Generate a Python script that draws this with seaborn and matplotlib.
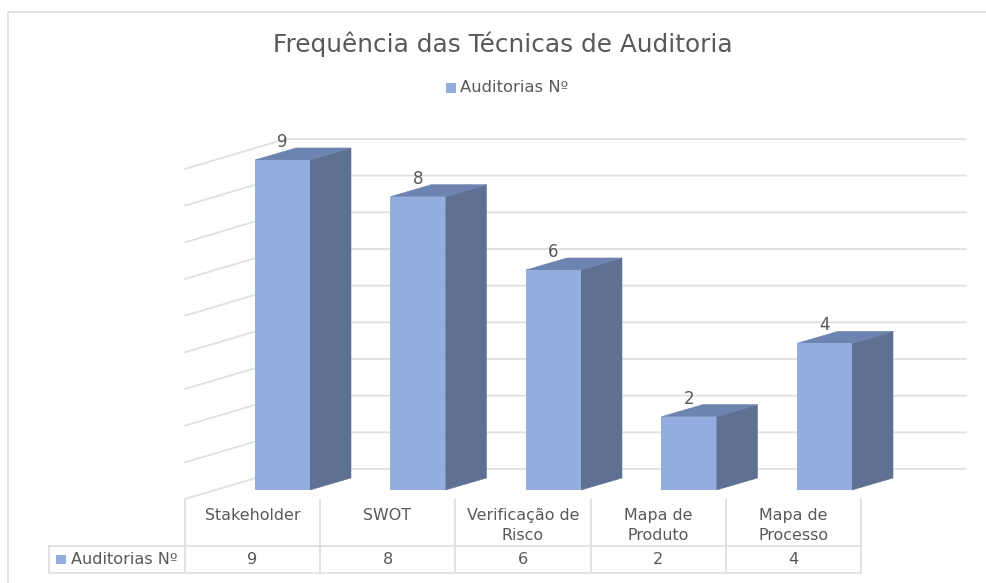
import matplotlib
matplotlib.use("Agg")
import matplotlib.pyplot as plt
import seaborn as sns

# dados do grafico
categorias = ["Stakeholder", "SWOT", "Verificação de Risco", "Mapa de Produto", "Mapa de Processo"]
rotulos_tabela = ["Stakeholder", "SWOT", "Verificação de\nRisco", "Mapa de\nProduto", "Mapa de\nProcesso"]
auditorias = [9, 8, 6, 2, 4]
niveis_grade = [0, 1, 2, 3, 4, 5, 6, 7, 8, 9]
serie = "Auditorias Nº"
titulo = "Frequência das Técnicas de Auditoria"

AZUL = "#93ADDE"
LADO = "#5F7192"
TOPO = "#6C84AF"
CINZA = "#E0E0E0"
TEXTO = "#595959"

W, H = 987, 583
PX_CAT = 135.5    # px entre categorias
PX_VAL = 36.67    # px por unidade
X0, Y0 = 282.5, 490   # centro da primeira barra, base

sns.set_theme(style="white")
plt.rcParams["font.family"] = ["DejaVu Sans"]

fig = plt.figure(figsize=(W / 100, H / 100), dpi=100)
ax = fig.add_axes([0, 0, 1, 1])

sns.barplot(x=categorias, y=auditorias, color=AZUL, saturation=1, width=55 / PX_CAT,
            linewidth=0, ax=ax, zorder=3)
ax.set_xlim((0 - X0) / PX_CAT, (W - X0) / PX_CAT)
ax.set_ylim((Y0 - H) / PX_VAL, Y0 / PX_VAL)
ax.axis("off")

# profundidade das barras
dx = 41 / PX_CAT
dy = 12 / PX_VAL
for p in ax.patches:
    x1, x2 = p.get_x(), p.get_x() + p.get_width()
    h = p.get_height()
    ax.fill([x2, x2 + dx, x2 + dx, x2], [0, dy, h + dy, h], color=LADO, lw=0.4, zorder=2.9)
    ax.fill([x1, x1 + dx, x2 + dx, x2], [h, h + dy, h + dy, h], color=TOPO, lw=0.4, zorder=2.9)
ax.bar_label(ax.containers[0], padding=6.5, fontsize=12, color=TEXTO, zorder=5)

# grade: parede lateral e fundo
parede_x = [(185 - X0) / PX_CAT, (286 - X0) / PX_CAT, (966 - X0) / PX_CAT]
for v in niveis_grade:
    ax.plot(parede_x, [v - 9 / PX_VAL, v + 21 / PX_VAL, v + 21 / PX_VAL], color=CINZA, lw=1.3, zorder=1)

# camada em pixels: moldura, titulo, legenda e tabela
ov = fig.add_axes([0, 0, 1, 1], facecolor="none")
ov.set_xlim(0, W)
ov.set_ylim(H, 0)
ov.axis("off")

ov.plot([8, 8, W], [H, 11.5, 11.5], color=CINZA, lw=1.3)
ov.text(503, 44, titulo, fontsize=17.8, color=TEXTO, ha="center", va="center")

ov.fill([446, 456, 456, 446], [83, 83, 93, 93], color=AZUL, lw=0)
ov.text(460, 88, serie, fontsize=11.8, color=TEXTO, ha="left", va="center")

limites = [185, 320, 455, 591, 726, 861]
for xv in limites:
    ov.plot([xv, xv], [499, 573], color=CINZA, lw=1.3)
ov.plot([49, 861], [546, 546], color=CINZA, lw=1.3)
ov.plot([49, 861], [573, 573], color=CINZA, lw=1.3)
ov.plot([49, 49], [546, 573], color=CINZA, lw=1.3)

ov.fill([56, 66, 66, 56], [555, 555, 564, 564], color=AZUL, lw=0)
ov.text(71, 559, serie, fontsize=11.6, color=TEXTO, ha="left", va="center")
for i, (rot, val) in enumerate(zip(rotulos_tabela, auditorias)):
    cx = (limites[i] + limites[i + 1]) / 2
    ov.text(cx, 508, rot, fontsize=11.4, color=TEXTO, ha="center", va="top", linespacing=1.45)
    ov.text(cx, 559, str(val), fontsize=11.6, color=TEXTO, ha="center", va="center")

fig.savefig("out.png", dpi=100, facecolor="white")
